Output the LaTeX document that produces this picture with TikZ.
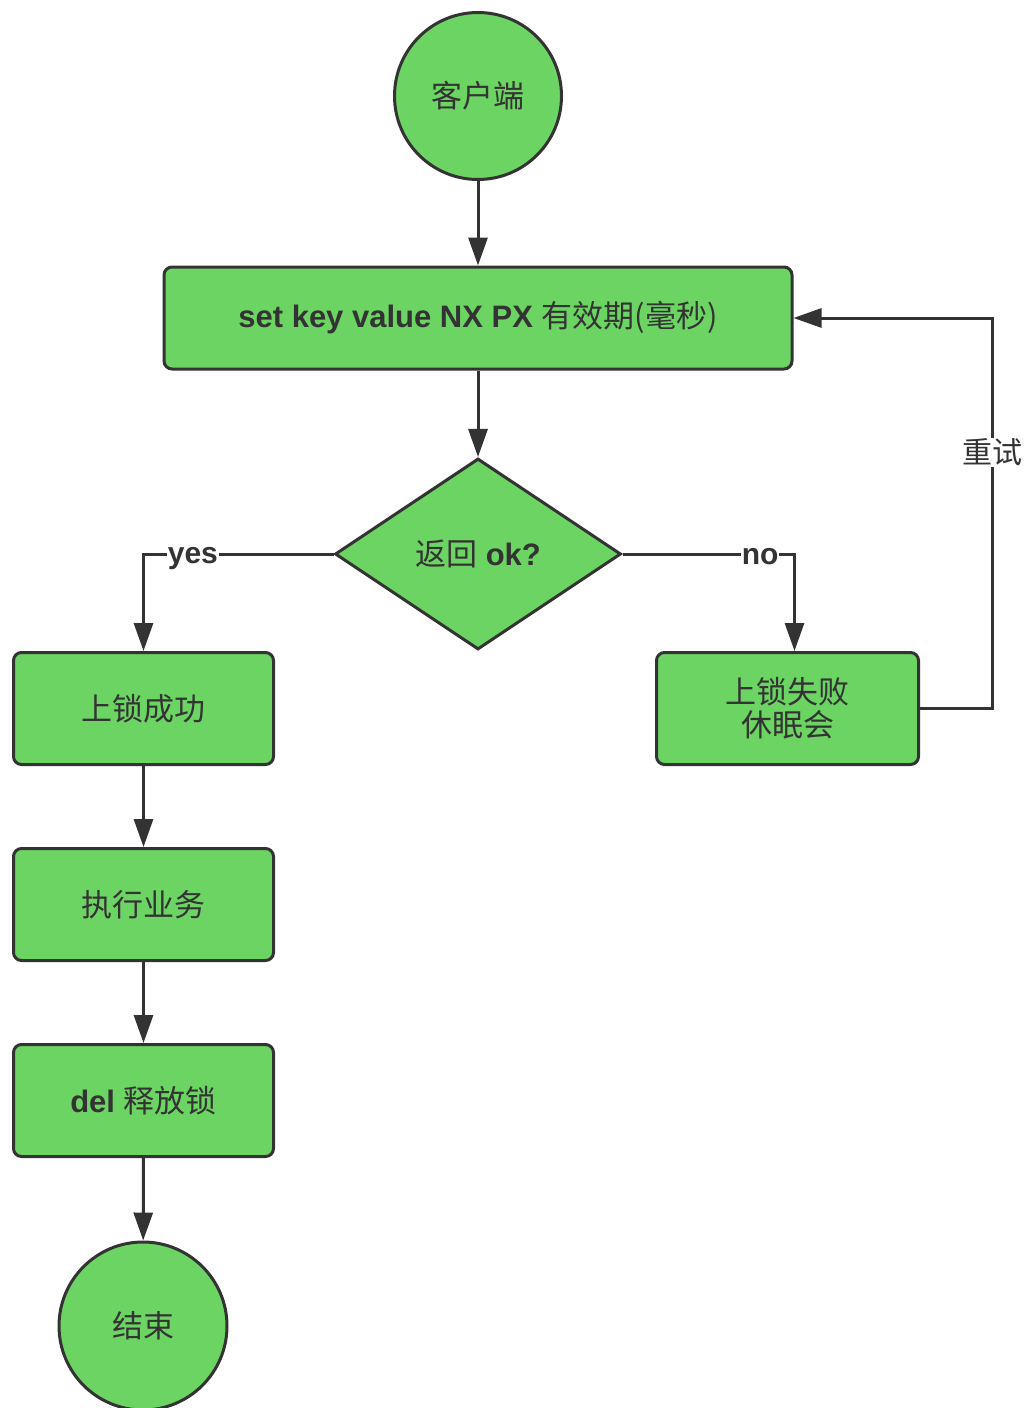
\documentclass[tikz,border=0pt]{standalone}
\usepackage{fontspec}
\setmainfont{Liberation Sans}
\newfontfamily\cjk{Noto Sans CJK SC}
\usetikzlibrary{shapes.geometric,arrows.meta}
\definecolor{boxgreen}{HTML}{6CD463}
\definecolor{ink}{HTML}{333333}

\begin{document}
\begin{tikzpicture}[x=1pt,y=-1pt,
  every node/.style={text=ink, font=\fontsize{31}{35}\selectfont},
  shapebase/.style={draw=ink, fill=boxgreen, line width=3pt},
  terminal/.style={shapebase, circle, minimum size=167pt, inner sep=0pt},
  process/.style={shapebase, rectangle, rounded corners=8pt, minimum width=260pt, minimum height=112pt, align=center},
  decision/.style={shapebase, diamond, minimum width=286pt, minimum height=191pt, inner sep=0pt},
  flow/.style={draw=ink, line width=3pt, -{Triangle[length=28pt,width=19pt]}},
  lbl/.style={fill=white, inner sep=1pt, font=\fontsize{30}{34}\selectfont}
]
\useasboundingbox (0,0) rectangle (1028,1408);

% nodes
\node[terminal] (client) at (478,96) {\cjk 客户端};
\node[process, minimum width=628pt, minimum height=102pt] (setnx) at (478,318)
  {\bfseries set key value NX PX {\cjk\mdseries 有效期(毫秒)}};
\node[decision] (check) at (478,554) {{\cjk 返回} \bfseries ok?};
\node[process] (locked) at (143.5,708.5) {\cjk 上锁成功};
\node[process] (work) at (143.5,904.5) {\cjk 执行业务};
\node[process] (release) at (143.5,1100.5) {\bfseries del {\cjk\mdseries 释放锁}};
\node[terminal, minimum size=168pt] (finish) at (143,1326) {\cjk 结束};
\node[process, minimum width=262pt] (failed) at (787.5,708.5) {{\cjk 上锁失败}\\[-2pt]{\cjk 休眠会}};

% connectors
\draw[flow] (client) -- (setnx);
\draw[flow] (setnx) -- (check);
\draw[flow] (check.west) -| node[lbl, pos=0.37, yshift=-5pt] {\bfseries yes} (locked.north);
\draw[flow] (check.east) -| node[lbl, pos=0.40, yshift=-3pt] {\bfseries no} ([xshift=7pt]failed.north);
\draw[flow] (locked) -- (work);
\draw[flow] (work) -- (release);
\draw[flow] (release) -- (finish);
\draw[flow] (failed.east) -- ++(72,0) |- node[lbl, pos=0.328] {\cjk 重试} (setnx.east);
\end{tikzpicture}
\end{document}
